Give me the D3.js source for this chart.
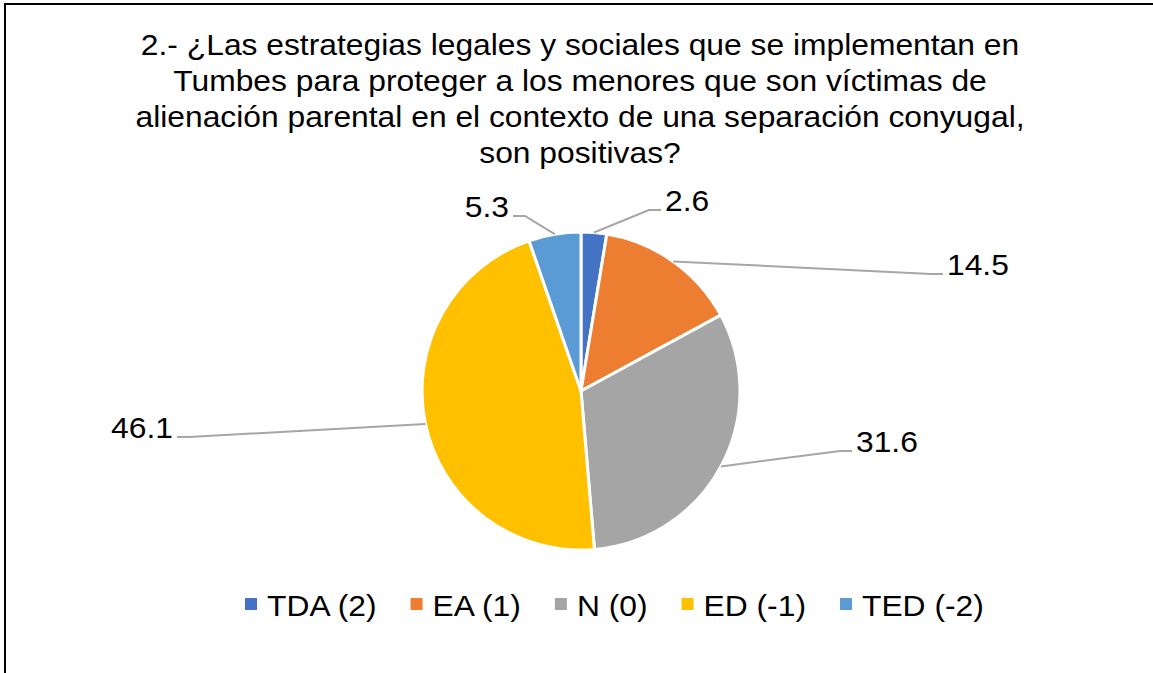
<!DOCTYPE html>
<html>
<head>
<meta charset="utf-8">
<script src="https://cdn.jsdelivr.net/npm/d3@7"></script>
<style>
  body { margin: 0; background: #fff; }
  svg { display: block; font-family: "Liberation Sans", Arial, sans-serif; }
</style>
</head>
<body>
<svg id="canvas" width="1153" height="673"></svg>
<script>
// data
const categories = ["TDA (2)", "EA (1)", "N (0)", "ED (-1)", "TED (-2)"];
const values = [2.6, 14.5, 31.6, 46.1, 5.3];
const colors = ["#4472C4", "#ED7D31", "#A5A5A5", "#FFC000", "#5B9BD5"];
const titleLines = [
  "2.- ¿Las estrategias legales y sociales que se implementan en",
  "Tumbes para proteger a los menores que son víctimas de",
  "alienación parental en el contexto de una separación conyugal,",
  "son positivas?"
];

// layout of the leader line ends (where the label sits), relative to pie centre
const labelEnds = [
  { dx: 80, dy: -181, side: 1 },
  { dx: 362, dy: -117, side: 1 },
  { dx: 271, dy: 60, side: 1 },
  { dx: -404, dy: 46, side: -1 },
  { dx: -68, dy: -175, side: -1 }
];

const svg = d3.select("#canvas");
const W = 1153;
const FS = 30;      // font size
const SX = 1.06;    // text looks a bit wide in the original

// frame (top and left edges visible)
svg.append("line")
  .attr("x1", 4).attr("y1", 4).attr("x2", W).attr("y2", 4)
  .attr("stroke", "#000").attr("stroke-width", 2);
svg.append("line")
  .attr("x1", 5).attr("y1", 4).attr("x2", 5).attr("y2", 673)
  .attr("stroke", "#000").attr("stroke-width", 2);

function label(parent, x, y, txt, anchor) {
  return parent.append("text")
    .attr("transform", `translate(${x},${y}) scale(${SX},1)`)
    .attr("text-anchor", anchor || "start")
    .attr("font-size", FS)
    .attr("fill", "#000")
    .text(txt);
}

// title
titleLines.forEach((t, i) => {
  label(svg, 580, 55 + i * 36, t, "middle");
});

// pie
const cx = 581, cy = 391, r = 159;
const pie = d3.pie().sort(null).value(d => d);
const arcs = pie(values);
const arc = d3.arc().innerRadius(0).outerRadius(r);

const g = svg.append("g").attr("transform", `translate(${cx},${cy})`);

g.selectAll("path.slice")
  .data(arcs)
  .join("path")
  .attr("class", "slice")
  .attr("d", arc)
  .attr("fill", (d, i) => colors[i])
  .attr("stroke", "#fff")
  .attr("stroke-width", 3)
  .attr("stroke-linejoin", "round");

// leader lines + data labels
arcs.forEach((d, i) => {
  const mid = (d.startAngle + d.endAngle) / 2;
  const sx = r * Math.sin(mid);
  const sy = -r * Math.cos(mid);
  const e = labelEnds[i];
  const elbowX = e.dx - e.side * 12;
  g.append("polyline")
    .attr("points", `${sx},${sy} ${elbowX},${e.dy} ${e.dx},${e.dy}`)
    .attr("fill", "none")
    .attr("stroke", "#A6A6A6")
    .attr("stroke-width", 2);
  label(g, e.dx + e.side * 4, e.dy + 1, d3.format(".1f")(values[i]),
    e.side > 0 ? "start" : "end");
});

// legend
const legend = svg.append("g");
let lx = 245;
categories.forEach((c, i) => {
  const item = legend.append("g").attr("transform", `translate(${lx},598)`);
  item.append("rect")
    .attr("width", 12).attr("height", 12)
    .attr("fill", colors[i]);
  const t = label(item, 22, 18, c);
  lx += 22 + t.node().getComputedTextLength() * SX + 34;
});
</script>
</body>
</html>
